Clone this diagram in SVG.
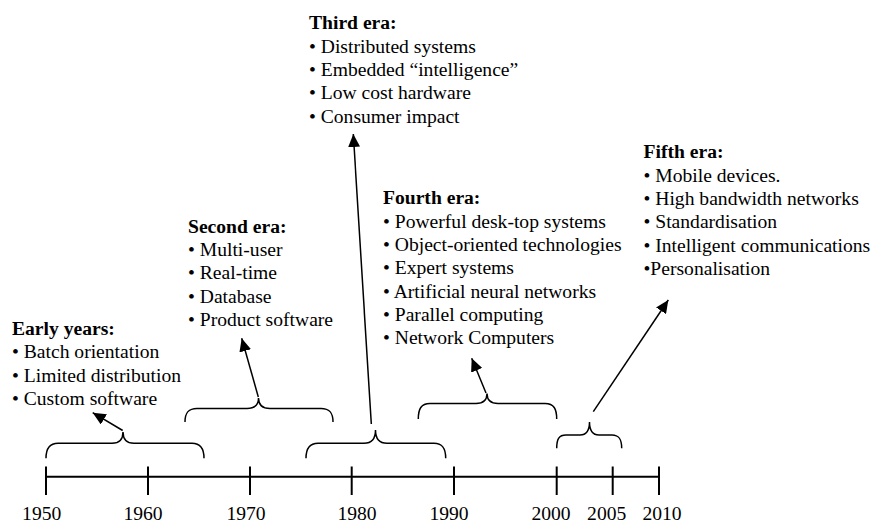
<svg xmlns="http://www.w3.org/2000/svg" width="875" height="523" viewBox="0 0 875 523" font-family="'Liberation Serif', 'DejaVu Serif', serif">
  <style>
    text { font-family: 'Liberation Serif', 'DejaVu Serif', serif; font-size: 19.6px; fill: #000; }
    .head { font-weight: bold; }
    .year { text-anchor: middle; }
    .axis { stroke: #000; stroke-width: 2; fill: none; }
    .brace { stroke: #000; stroke-width: 1.5; fill: none; }
    .arrow { stroke: #000; stroke-width: 1.5; fill: none; marker-end: url(#head); }
  </style>
  <defs>
    <marker id="head" markerUnits="userSpaceOnUse" markerWidth="14" markerHeight="12" refX="13" refY="6" orient="auto">
      <path d="M0,0 L13,6 L0,12 Z" fill="#000"/>
    </marker>
  </defs>

  <rect width="875" height="523" fill="#fff"/>

  <!-- Timeline axis with decade ticks -->
  <g id="axis">
    <line class="axis" x1="46" y1="476.7" x2="659" y2="476.7"/>
    <line class="axis" x1="46" y1="466.5" x2="46" y2="495"/>
    <line class="axis" x1="148" y1="466.5" x2="148" y2="495"/>
    <line class="axis" x1="250" y1="466.5" x2="250" y2="495"/>
    <line class="axis" x1="351.7" y1="466.5" x2="351.7" y2="495"/>
    <line class="axis" x1="454" y1="466.5" x2="454" y2="495"/>
    <line class="axis" x1="556.7" y1="466.5" x2="556.7" y2="495"/>
    <line class="axis" x1="612.7" y1="466.5" x2="612.7" y2="495"/>
    <line class="axis" x1="659" y1="466.5" x2="659" y2="495"/>
    <text class="year" x="41.7" y="520">1950</text>
    <text class="year" x="143" y="520">1960</text>
    <text class="year" x="246" y="520">1970</text>
    <text class="year" x="357" y="520">1980</text>
    <text class="year" x="449" y="520">1990</text>
    <text class="year" x="551" y="520">2000</text>
    <text class="year" x="606.7" y="520">2005</text>
    <text class="year" x="662" y="520">2010</text>
  </g>

  <!-- Era brackets over the time spans -->
  <g id="braces">
    <path class="brace" d="M46,458.3 C46,449 49,443.3 58,443.3 L112,443.3 C120,443.3 123,439 123,432 C123,439 126,443.3 134,443.3 L192,443.3 C201,443.3 204,449 204,458.3"/>
    <path class="brace" d="M185,422 C185,413 188,408.5 197,408.5 L247,408.5 C255,408.5 258.5,404 258.5,398 C258.5,404 262,408.5 270,408.5 L321,408.5 C330,408.5 333,413 333,422"/>
    <path class="brace" d="M306,458.3 C306,449 309,443.3 318,443.3 L364,443.3 C372,443.3 375.5,438 375.5,430 C375.5,438 379,443.3 387,443.3 L434,443.3 C443,443.3 445.7,449 445.7,458.3"/>
    <path class="brace" d="M418.3,419 C418.3,409 421,403.5 430,403.5 L476,403.5 C484,403.5 487,399 487,393.5 C487,399 490,403.5 498,403.5 L545,403.5 C554,403.5 556.7,409 556.7,419"/>
    <path class="brace" d="M556.7,448.3 C556.7,439 559,435 566,435 L580,435 C587,435 589.5,430 589.5,422 C589.5,430 592,435 599,435 L612,435 C619,435 621.7,439 621.7,448.3"/>
  </g>

  <!-- Arrows from each bracket to its era description -->
  <g id="connectors">
    <line class="arrow" x1="122.7" y1="430.5" x2="92.7" y2="412.7"/>
    <line class="arrow" x1="258.3" y1="397" x2="241.7" y2="338.3"/>
    <line class="arrow" x1="371.3" y1="424" x2="353.3" y2="134"/>
    <line class="arrow" x1="486" y1="393" x2="471.7" y2="358.3"/>
    <line class="arrow" x1="593.3" y1="411.7" x2="668.3" y2="300"/>
  </g>

  <g id="early-years">
    <text class="head" x="12" y="335">Early years:</text>
    <text x="12" y="358.3">• Batch orientation</text>
    <text x="12" y="381.7">• Limited distribution</text>
    <text x="12" y="405">• Custom software</text>
  </g>

  <g id="second-era">
    <text class="head" x="188" y="232.7">Second era:</text>
    <text x="188" y="256">• Multi-user</text>
    <text x="188" y="279.3">• Real-time</text>
    <text x="188" y="302.7">• Database</text>
    <text x="188" y="326">• Product software</text>
  </g>

  <g id="third-era">
    <text class="head" x="309" y="29.3">Third era:</text>
    <text x="309" y="52.7">• Distributed systems</text>
    <text x="309" y="76">• Embedded “intelligence”</text>
    <text x="309" y="99.3">• Low cost hardware</text>
    <text x="309" y="122.7">• Consumer impact</text>
  </g>

  <g id="fourth-era">
    <text class="head" x="383" y="204.3">Fourth era:</text>
    <text x="383" y="227.7">• Powerful desk-top systems</text>
    <text x="383" y="251">• Object-oriented technologies</text>
    <text x="383" y="274.3">• Expert systems</text>
    <text x="383" y="297.7">• Artificial neural networks</text>
    <text x="383" y="321">• Parallel computing</text>
    <text x="383" y="344.3">• Network Computers</text>
  </g>

  <g id="fifth-era">
    <text class="head" x="643.5" y="158.3">Fifth era:</text>
    <text x="643.5" y="181.7">• Mobile devices.</text>
    <text x="643.5" y="205">• High bandwidth networks</text>
    <text x="643.5" y="228.3">• Standardisation</text>
    <text x="643.5" y="251.7">• Intelligent communications</text>
    <text x="643.5" y="275">•Personalisation</text>
  </g>
</svg>
